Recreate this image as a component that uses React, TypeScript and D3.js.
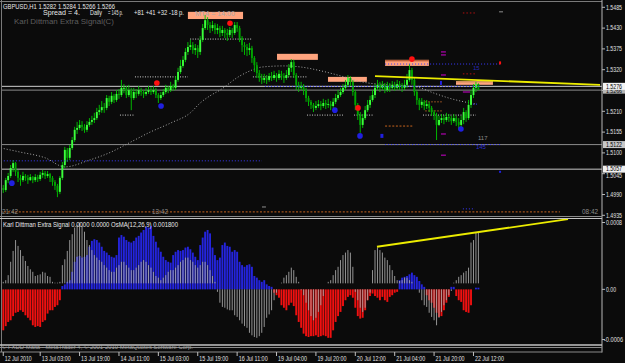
import React from "react";
import * as d3 from "d3";

// ---------- DATA ----------
const firstOpen = 1.4989;
const closes = [
  1.5007,1.5002,1.5028,1.5039,1.5060,1.5073,1.5050,1.5034,1.5028,1.5039,
  1.5034,1.5028,1.5036,1.5028,1.5036,1.5031,1.5042,1.5047,1.5039,1.5044,
  1.5034,1.5023,1.5013,1.4997,1.5034,1.5068,1.5108,1.5087,1.5113,1.5134,
  1.5161,1.5166,1.5174,1.5169,1.5161,1.5174,1.5182,1.5187,1.5192,1.5208,
  1.5213,1.5221,1.5219,1.5245,1.5235,1.5251,1.5240,1.5256,1.5253,1.5272,
  1.5272,1.5253,1.5266,1.5245,1.5261,1.5256,1.5266,1.5261,1.5256,1.5261,
  1.5266,1.5261,1.5266,1.5253,1.5245,1.5253,1.5261,1.5272,1.5266,1.5277,
  1.5272,1.5293,1.5314,1.5330,1.5346,1.5367,1.5380,1.5385,1.5372,1.5377,
  1.5367,1.5399,1.5430,1.5451,1.5438,1.5430,1.5438,1.5425,1.5430,1.5417,
  1.5425,1.5417,1.5412,1.5425,1.5417,1.5438,1.5430,1.5404,1.5385,1.5380,
  1.5372,1.5377,1.5351,1.5332,1.5311,1.5298,1.5293,1.5298,1.5293,1.5303,
  1.5298,1.5306,1.5298,1.5309,1.5303,1.5298,1.5306,1.5325,1.5340,1.5306,
  1.5280,1.5272,1.5277,1.5266,1.5245,1.5235,1.5227,1.5219,1.5224,1.5229,
  1.5224,1.5232,1.5227,1.5229,1.5224,1.5235,1.5245,1.5253,1.5261,1.5272,
  1.5280,1.5298,1.5288,1.5261,1.5227,1.5200,1.5174,1.5192,1.5213,1.5227,
  1.5240,1.5253,1.5272,1.5280,1.5272,1.5280,1.5266,1.5277,1.5272,1.5280,
  1.5272,1.5282,1.5277,1.5272,1.5280,1.5293,1.5319,1.5293,1.5261,1.5240,
  1.5227,1.5235,1.5224,1.5229,1.5219,1.5208,1.5200,1.5174,1.5187,1.5192,
  1.5187,1.5195,1.5192,1.5184,1.5192,1.5182,1.5174,1.5187,1.5208,1.5192,
  1.5227,1.5253,1.5272,1.5282,1.5266
];
const highs = [
  1.5013,1.5015,1.5034,1.5047,1.5068,1.5081,1.5076,1.5055,1.5042,1.5050,
  1.5044,1.5042,1.5044,1.5039,1.5044,1.5042,1.5050,1.5055,1.5052,1.5052,
  1.5047,1.5039,1.5028,1.5018,1.5039,1.5076,1.5116,1.5113,1.5121,1.5142,
  1.5169,1.5182,1.5187,1.5184,1.5176,1.5184,1.5192,1.5198,1.5206,1.5219,
  1.5227,1.5237,1.5232,1.5253,1.5251,1.5261,1.5256,1.5266,1.5269,1.5293,
  1.5282,1.5277,1.5280,1.5272,1.5272,1.5269,1.5277,1.5272,1.5266,1.5272,
  1.5277,1.5274,1.5277,1.5272,1.5258,1.5261,1.5269,1.5280,1.5277,1.5288,
  1.5282,1.5303,1.5325,1.5346,1.5356,1.5377,1.5393,1.5399,1.5393,1.5388,
  1.5385,1.5409,1.5441,1.5465,1.5459,1.5446,1.5449,1.5443,1.5441,1.5436,
  1.5436,1.5430,1.5428,1.5433,1.5430,1.5446,1.5446,1.5436,1.5409,1.5393,
  1.5388,1.5391,1.5383,1.5356,1.5340,1.5319,1.5309,1.5309,1.5306,1.5311,
  1.5314,1.5317,1.5311,1.5319,1.5317,1.5311,1.5319,1.5335,1.5348,1.5346,
  1.5311,1.5288,1.5288,1.5282,1.5272,1.5251,1.5240,1.5232,1.5237,1.5240,
  1.5237,1.5243,1.5240,1.5243,1.5237,1.5245,1.5256,1.5266,1.5272,1.5282,
  1.5293,1.5306,1.5303,1.5293,1.5266,1.5232,1.5208,1.5203,1.5224,1.5240,
  1.5251,1.5266,1.5282,1.5293,1.5288,1.5290,1.5285,1.5288,1.5285,1.5290,
  1.5288,1.5293,1.5290,1.5285,1.5293,1.5309,1.5335,1.5325,1.5298,1.5266,
  1.5245,1.5245,1.5240,1.5240,1.5235,1.5224,1.5213,1.5206,1.5198,1.5203,
  1.5200,1.5206,1.5203,1.5198,1.5203,1.5198,1.5192,1.5198,1.5219,1.5213,
  1.5240,1.5266,1.5282,1.5288,1.5284
];
const lows = [
  1.4981,1.4994,1.4997,1.5020,1.5034,1.5050,1.5039,1.5023,1.5013,1.5023,
  1.5026,1.5018,1.5026,1.5020,1.5023,1.5023,1.5026,1.5034,1.5031,1.5034,
  1.5023,1.5013,1.5002,1.4983,1.4991,1.5028,1.5060,1.5076,1.5081,1.5108,
  1.5129,1.5150,1.5161,1.5158,1.5153,1.5155,1.5169,1.5174,1.5179,1.5187,
  1.5200,1.5206,1.5206,1.5213,1.5224,1.5229,1.5232,1.5235,1.5243,1.5248,
  1.5258,1.5245,1.5248,1.5213,1.5240,1.5245,1.5251,1.5251,1.5245,1.5251,
  1.5256,1.5253,1.5256,1.5245,1.5232,1.5240,1.5248,1.5256,1.5258,1.5261,
  1.5264,1.5266,1.5288,1.5309,1.5325,1.5340,1.5359,1.5372,1.5362,1.5359,
  1.5351,1.5359,1.5393,1.5425,1.5425,1.5417,1.5422,1.5414,1.5414,1.5406,
  1.5409,1.5404,1.5396,1.5406,1.5404,1.5412,1.5420,1.5393,1.5367,1.5359,
  1.5356,1.5359,1.5338,1.5314,1.5298,1.5288,1.5282,1.5285,1.5282,1.5288,
  1.5290,1.5293,1.5288,1.5293,1.5293,1.5285,1.5293,1.5301,1.5314,1.5298,
  1.5266,1.5261,1.5266,1.5253,1.5235,1.5224,1.5216,1.5208,1.5213,1.5219,
  1.5213,1.5219,1.5216,1.5219,1.5213,1.5219,1.5229,1.5240,1.5248,1.5256,
  1.5266,1.5274,1.5277,1.5251,1.5213,1.5187,1.5153,1.5166,1.5187,1.5208,
  1.5219,1.5235,1.5245,1.5266,1.5261,1.5266,1.5258,1.5261,1.5261,1.5266,
  1.5264,1.5266,1.5266,1.5261,1.5266,1.5272,1.5288,1.5280,1.5251,1.5227,
  1.5213,1.5219,1.5213,1.5216,1.5208,1.5198,1.5187,1.5134,1.5171,1.5179,
  1.5176,1.5182,1.5182,1.5174,1.5179,1.5171,1.5161,1.5166,1.5176,1.5182,
  1.5187,1.5219,1.5245,1.5261,1.5266
];
// indicator values in units of 0.00001
const osma = [
  8,9,11,17,33,46,59,52,47,40,
  34,28,24,21,16,17,18,21,20,16,
  15,9,8,8,9,29,36,46,59,66,
  74,77,80,76,69,59,53,47,41,38,
  35,33,29,26,23,21,21,26,29,33,
  33,29,26,23,23,26,29,33,35,33,
  29,26,21,16,14,11,14,17,21,23,
  23,26,29,33,35,38,38,35,33,29,
  26,29,33,33,29,23,16,9,-3,-16,
  -21,-22,-24,-25,-25,-31,-33,-37,-41,-44,
  -46,-52,-55,-57,-58,-56,-52,-45,-34,-30,
  -25,-13,-4,0,8,14,17,21,26,23,
  15,9,-1,-7,-16,-25,-32,-37,-34,-27,
  -19,-8,0,9,11,17,23,27,35,41,
  44,47,44,27,-3,-13,-22,-27,-22,-13,
  -4,23,47,50,47,44,38,35,29,23,
  16,11,10,11,14,14,11,9,7,2,
  -4,-13,-19,-21,-28,-33,-37,-43,-34,-27,
  -19,-13,-7,-2,8,11,15,17,20,22,
  26,56,59,68,68
];
const signal = [
  -49,-49,-44,-39,-37,-32,-28,-27,-25,-27,
  -31,-34,-37,-43,-45,-44,-45,-39,-37,-29,
  -25,-25,-21,-19,-13,4,6,9,11,21,
  33,39,40,38,39,41,51,58,60,59,
  56,51,46,44,41,39,38,41,62,65,
  63,59,57,56,58,62,64,68,71,75,
  74,76,64,57,50,45,39,35,33,32,
  41,45,47,46,47,50,51,48,44,39,
  35,53,62,69,71,67,50,41,35,38,
  53,56,52,51,45,47,45,33,29,27,
  29,30,27,16,14,11,9,11,6,4,
  3,-4,-7,-10,-19,-22,-25,-19,-16,-20,
  -31,-39,-46,-53,-56,-57,-56,-56,-55,-57,
  -56,-55,-56,-58,-58,-49,-39,-32,-27,-20,
  -13,-9,-7,-10,-22,-32,-35,-34,-25,-13,
  -8,-5,-8,-10,-13,-9,-13,-15,-9,-7,
  -4,-3,11,14,15,16,18,20,17,15,
  10,6,3,-7,-13,-16,-22,-28,-33,-32,
  -25,-16,-9,3,3,-8,-13,-15,-25,-27,
  -28,-19,0,2,2
];
const maBars = [0,8,18,26,36,44,52,60,69,77,81,85,89,97,102,106,115,122,130,135,141,145,149,158,169,176,182,193];
const maValues = [1.5113,1.5102,1.5087,1.5063,1.5081,1.5100,1.5126,1.5153,1.5179,1.5206,1.5232,1.5251,1.5266,1.5303,1.5319,1.5327,1.5330,1.5327,1.5317,1.5309,1.5298,1.5290,1.5285,1.5280,1.5274,1.5258,1.5245,1.5229];

const timeBars = [1,16,32,48,64,80,96,112,128,144,160,176,192];
const timeLabels = ["12 Jul 2010","13 Jul 03:00","13 Jul 19:00","14 Jul 11:00","15 Jul 03:00","15 Jul 19:00","16 Jul 11:00","19 Jul 04:00","19 Jul 20:00","20 Jul 12:00","21 Jul 04:00","21 Jul 20:00","22 Jul 12:00"];
// 1.5265 grid label sits under the marked-price boxes in the reference
const priceTicks = [1.5485,1.5430,1.5375,1.5320,1.5265,1.5210,1.5155,1.5100,1.5045,1.4990,1.4935];
const hiddenTicks = [1.5265];
const indTicks = [80,0,-60];
const indTickLabels = ["0.0008","0.00","-0.0006"];
const markedPrices = [1.5266,1.5276,1.5122,1.5057];

// objects on the chart (bar index, price)
const boxes = [[76.0,98.4,1.5473,1.5454],[112.2,128.8,1.5362,1.5346],[132.9,148.7,1.5301,1.5288],[156.1,173.9,1.5346,1.5330],[184.9,199.9,1.5290,1.5280]];
const greyLevels = [[54.5,76.0,1.5301],[48.4,54.5,1.5200],[76.9,102.0,1.5401],[102.4,124.4,1.5301],[124.4,139.0,1.5200],[143.5,151.2,1.5200],[171.5,193.0,1.5200]];
const blueLevels = [[107.3,194.6,1.5276],[0,106.1,1.5079],[156.1,202.8,1.5122],[156.1,202.8,1.5335],[187.7,192.6,1.4952],[191.8,193.8,1.5229]];
const orangeLevels = [[0,227.1,1.4944],[156.1,167.4,1.5171]];
const brownLevels = [[172.3,179.6,1.5235],[172.3,179.6,1.5211]];
const darkRedLevels = [[187.7,193.4,1.5470],[187.7,193.4,1.5309]];
const magentaMarks = [[178.8,180.8,1.5367],[178.8,180.8,1.5359],[178.8,180.8,1.5306],[187.7,190.6,1.5261],[178.8,180.8,1.5150],[178.8,180.8,1.5094]];
const redDots = [[63.4,1.5285],[93.1,1.5443],[145.1,1.5219],[167.0,1.5348]];
const blueDots = [[65.1,1.5224],[4.5,1.5020],[135.7,1.5213],[145.9,1.5145],[186.9,1.5163]];
const trendMain = [[152.0,1.5303],[243.4,1.5280]];
const trendInd = [[152.8,51],[230.4,84]];
const clockBars = [0.5,61.4,236.1];
const clockLabels = ["21:42","13:42","08:42"];

export default function App() {
  const W = 625, H = 363, R = 602;
  const xS = d3.scaleLinear().domain([0, 194]).range([0.8, 478.4]);
  const yP = d3.scaleLinear().domain([1.4935, 1.5485]).range([215.3, 7.3]);
  const yI = d3.scaleLinear().domain([-60, 80]).range([339.5, 222.5]);
  const font = "'Liberation Sans', Arial, sans-serif";
  const opens = closes.map((c, i) => (i === 0 ? firstOpen : closes[i - 1]));
  const maPath = d3.line<number>().x((_, k) => xS(maBars[k])).y((d) => yP(d)).curve(d3.curveMonotoneX)(maValues) || "";
  const tMain = d3.line<number[]>().x((d) => xS(d[0])).y((d) => yP(d[1]))(trendMain) || "";
  const tInd = d3.line<number[]>().x((d) => xS(d[0])).y((d) => yI(d[1]))(trendInd) || "";
  const y0 = yI(0);
  const hl = (arr: number[][], color: string, dash: string, key: string, w = 1) =>
    arr.map((l, k) => (
      <line key={key + k} x1={xS(l[0])} x2={xS(l[1])} y1={yP(l[2])} y2={yP(l[2])} stroke={color} strokeWidth={w} strokeDasharray={dash} />
    ));
  const markStyle: Record<number, [string, string]> = { 0: ["#b8b8b8", "#000"], 1: ["#f4f4f4", "#000"], 2: ["#c8c8c8", "#000"], 3: ["#f0f0f0", "#000"] };
  const lineColors = ["#8c8c8c", "#d0d0d0", "#8c8c8c", "#c8c8c8"];

  return (
    <svg width={W} height={H} style={{ position: "fixed", left: 0, top: 0 }} fontFamily={font}>
      <defs>
        <clipPath id="mainClip"><rect x={2} y={2} width={R - 2} height={214} /></clipPath>
        <clipPath id="indClip"><rect x={2} y={217} width={R - 2} height={128} /></clipPath>
      </defs>
      <rect width={W} height={H} fill="#0b0b0b" />

      <g clipPath="url(#mainClip)">
        {markedPrices.map((p, k) => (
          <line key={"pl" + k} x1={0} x2={R} y1={yP(p)} y2={yP(p)} stroke={lineColors[k]} strokeWidth={1} />
        ))}
        {boxes.map((b, k) => (
          <rect key={"bx" + k} x={xS(b[0])} width={xS(b[1]) - xS(b[0])} y={yP(b[2])} height={yP(b[3]) - yP(b[2])} fill="#ffa47e" />
        ))}
        <rect x={xS(boxes[3][0])} width={xS(boxes[3][1]) - xS(boxes[3][0])} y={yP(boxes[3][2])} height={1.5} fill="#b8603a" />
        <rect x={xS(boxes[4][0])} width={xS(boxes[4][1]) - xS(boxes[4][0])} y={yP(boxes[4][2])} height={1.5} fill="#d09060" />
        {hl(greyLevels, "#cfcfcf", "1 1.5", "gl")}
        {hl(orangeLevels, "#c8641e", "2 1.6", "ol")}
        {hl(brownLevels, "#8a4a20", "2 1", "bl")}
        {hl(darkRedLevels, "#b01010", "1.5 2", "dr")}
        {hl(magentaMarks, "#d000d0", "", "mg")}
        <path d={maPath} fill="none" stroke="#a8a8a8" strokeWidth={1} strokeDasharray="1 2" />
        {closes.map((c, i) => {
          const o = opens[i];
          const cx = xS(i);
          const up = c >= o;
          const top = yP(Math.max(o, c));
          const h = Math.max(0.9, Math.abs(yP(o) - yP(c)));
          return (
            <g key={"c" + i}>
              <line x1={cx} x2={cx} y1={yP(highs[i])} y2={yP(lows[i])} stroke="#00c800" strokeWidth={0.9} />
              <rect x={cx - 0.95} width={1.9} y={top} height={h} fill={up ? "#3cff3c" : "#00a400"} />
            </g>
          );
        })}
        {hl(blueLevels, "#3a3aff", "1 2", "bll")}
        <path d={tMain} fill="none" stroke="#ecec00" strokeWidth={1.8} />
        {redDots.map((d, k) => <circle key={"rd" + k} cx={xS(d[0])} cy={yP(d[1])} r={2.8} fill="#ff1010" />)}
        {blueDots.map((d, k) => <circle key={"bd" + k} cx={xS(d[0])} cy={yP(d[1])} r={2.8} fill="#2020e0" />)}
        <rect x={xS(202.8) - 1} y={yP(1.5338) - 1.5} width={2} height={3} fill="#ff1010" />
        <rect x={xS(178.8) - 1} y={yP(1.5285) - 2} width={2} height={4} fill="#2020e0" />
        <rect x={xS(202.8) - 1} y={yP(1.5050) - 1} width={2} height={2} fill="#2020e0" />
        <rect x={xS(154.8) - 1.5} y={yP(1.5145) - 2} width={3} height={4} fill="#2020e0" />
        <line x1={xS(202.4)} x2={xS(204.0)} y1={yP(1.5473)} y2={yP(1.5473)} stroke="#909090" />
        <line x1={xS(106.1)} x2={xS(107.7)} y1={yP(1.4957)} y2={yP(1.4957)} stroke="#909090" />
        <text x={xS(191.8)} y={yP(1.5325) + 2} fontSize={6} fill="#2828b0">15</text>
        <text x={xS(193.8)} y={yP(1.5139) + 2} fontSize={6} fill="#8a8a8a">117</text>
        <text x={xS(193.0)} y={yP(1.5116) + 2} fontSize={6} fill="#3030d0">145</text>
        {clockBars.map((b, k) => (
          <text key={"ck" + k} x={xS(b)} y={yP(1.4944) + 2.3} fontSize={6.5} fill="#8c8c8c" textLength={16} lengthAdjust="spacingAndGlyphs">{clockLabels[k]}</text>
        ))}
      </g>

      <text x={3} y={9} fontSize={6.8} fill="#e8e8e8" textLength={112} lengthAdjust="spacingAndGlyphs">GBPUSD,H1  1.5282 1.5284 1.5266 1.5266</text>
      <text x={43} y={14.8} fontSize={6.5} fill="#e8e8e8" textLength={37} lengthAdjust="spacingAndGlyphs">Spread = 4.</text>
      <text x={90} y={14.8} fontSize={6.5} fill="#e8e8e8" textLength={12} lengthAdjust="spacingAndGlyphs">Daily</text>
      <text x={108} y={14.8} fontSize={6.5} fill="#e8e8e8" textLength={15} lengthAdjust="spacingAndGlyphs">= 145 p.</text>
      <text x={134} y={14.8} fontSize={6.5} fill="#e8e8e8" textLength={50} lengthAdjust="spacingAndGlyphs">+81 +41 +32 -18 p.</text>
      <text x={14} y={24.2} fontSize={8} fill="#5e5e5e" textLength={100} lengthAdjust="spacingAndGlyphs">Karl Dittman Extra Signal(C)</text>
      <text x={195} y={15.6} fontSize={7} fill="#a8a8a8" textLength={40} lengthAdjust="spacingAndGlyphs">MT4 = 14:00</text>

      <g clipPath="url(#indClip)">
        {signal.map((v, i) => {
          if (v === 0) return null;
          const yy = yI(v);
          return (
            <rect key={"s" + i} x={xS(i) - 0.95} width={1.9} y={Math.min(yy, y0)} height={Math.abs(yy - y0)} fill={v > 0 ? "#2424dc" : "#f01010"} />
          );
        })}
        {osma.map((v, i) => {
          const yy = yI(v);
          if (v > 0) {
            const base = y0 - 6;
            if (yy >= base) return null;
            return <line key={"o" + i} x1={xS(i)} x2={xS(i)} y1={base} y2={yy} stroke="#a4a4a4" strokeWidth={1} opacity={0.9} />;
          }
          if (v < 0) return <line key={"o" + i} x1={xS(i)} x2={xS(i)} y1={y0} y2={yy} stroke="#a4a4a4" strokeWidth={1} opacity={0.9} />;
          return null;
        })}
        <path d={tInd} fill="none" stroke="#ecec00" strokeWidth={1.8} />
      </g>
      <text x={3} y={227} fontSize={6.6} fill="#e8e8e8" textLength={175} lengthAdjust="spacingAndGlyphs">Karl Dittman Extra Signal 0.0000 0.0000  OsMA(12,26,9) 0.001800</text>

      {/* frame */}
      <line x1={1.5} x2={1.5} y1={0} y2={352} stroke="#7a7a7a" />
      <line x1={0} x2={R} y1={1.5} y2={1.5} stroke="#7a7a7a" />
      <line x1={R} x2={R} y1={0} y2={352.5} stroke="#b8b8b8" />
      <line x1={0} x2={R} y1={216.5} y2={216.5} stroke="#8a8a8a" />
      <line x1={0} x2={R} y1={218.5} y2={218.5} stroke="#c4c4c4" />
      <line x1={0} x2={R} y1={345} y2={345} stroke="#c4c4c4" strokeWidth={1.5} />
      <line x1={0} x2={R} y1={347.5} y2={347.5} stroke="#8a8a8a" />
      <line x1={0} x2={R} y1={352} y2={352} stroke="#8a8a8a" />
      <text x={2} y={348.6} fontSize={6} fill="#a0a0a0" textLength={191} lengthAdjust="spacingAndGlyphs">© FXDD Malta - MetaTrader 4, © 2001-2010 MetaQuotes Software Corp.</text>

      {/* price axis */}
      {priceTicks.map((p, k) => (
        <g key={"pt" + k}>
          <line x1={R} x2={R + 3} y1={yP(p)} y2={yP(p)} stroke="#b8b8b8" />
          {hiddenTicks.includes(p) ? null : (
            <text x={606} y={yP(p) + (p === 1.5045 ? 3.8 : 2.3)} fontSize={6.5} fill="#e0e0e0" textLength={16} lengthAdjust="spacingAndGlyphs">{p.toFixed(4)}</text>
          )}
        </g>
      ))}
      {markedPrices.map((p, k) => (
        <g key={"mp" + k}>
          <rect x={R + 1} y={yP(p) - (k === 0 ? 2 : 3.5)} width={22} height={k === 0 ? 5.5 : 7} fill={markStyle[k][0]} />
          <text x={606} y={yP(p) + (k === 0 ? 3.2 : 2.3)} fontSize={k === 0 ? 5 : 6.5} fill={markStyle[k][1]} textLength={16} lengthAdjust="spacingAndGlyphs">{p.toFixed(4)}</text>
        </g>
      ))}
      {indTicks.map((v, k) => (
        <g key={"it" + k}>
          <line x1={R} x2={R + 3} y1={yI(v)} y2={yI(v)} stroke="#b8b8b8" />
          <text x={v < 0 ? 604 : 606} y={yI(v) + 2.3} fontSize={6.5} fill="#e0e0e0" textLength={v < 0 ? 19 : v === 0 ? 10 : 16} lengthAdjust="spacingAndGlyphs">{indTickLabels[k]}</text>
        </g>
      ))}

      {/* time axis */}
      {timeBars.map((b, k) => (
        <g key={"tb" + k}>
          <line x1={xS(b)} x2={xS(b)} y1={352} y2={356} stroke="#c0c0c0" />
          <text x={xS(b) + 1.5} y={360.5} fontSize={6.8} fill="#e0e0e0" textLength={b === 1 ? 27 : 29} lengthAdjust="spacingAndGlyphs">{timeLabels[k]}</text>
        </g>
      ))}
    </svg>
  );
}
